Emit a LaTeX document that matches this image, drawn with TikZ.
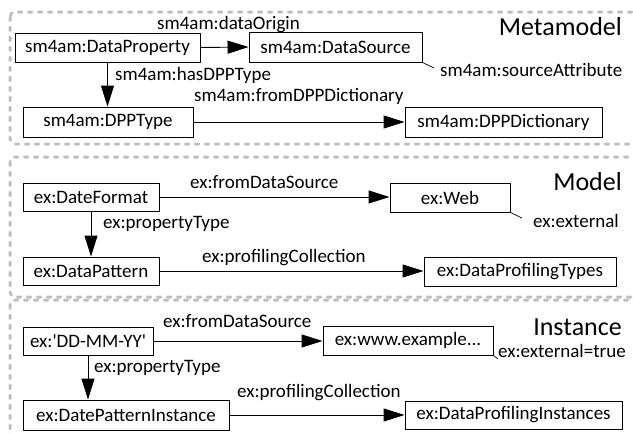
\documentclass[tikz,border=0pt]{standalone}
\usepackage{fontspec}
\setmainfont{Carlito}[Ligatures=TeXOff]
\usetikzlibrary{arrows.meta}
\begin{document}
\begin{tikzpicture}[x=1pt,y=-1pt,
  every node/.style={font=\fontsize{19}{23}\selectfont},
  cls/.style={draw=black, line width=0.9pt, inner sep=0pt, fill=white},
  conn/.style={draw=black, line width=0.9pt, -{Triangle[length=21pt,width=13pt]}},
  attr/.style={draw=black, line width=0.7pt},
  lbl/.style={anchor=base west, inner sep=0pt},
  ttl/.style={anchor=base east, inner sep=0pt, font=\fontsize{26}{30}\selectfont},
  frame/.style={draw=black!25, line width=3pt, line cap=round, dash pattern=on 3.5pt off 6.5pt, rounded corners=5pt}]
\useasboundingbox (0,0) rectangle (633,434);
\clip (0,0) rectangle (633,434);
% frames
\draw[frame] (10,12) rectangle (650,144);
\draw[frame] (10,157) rectangle (650,297);
\draw[frame] (10,300) rectangle (650,450);
% Metamodel
\node[cls, minimum width=185pt, minimum height=29pt] (dp) at (107.5,47.5) {sm4am:DataProperty};
\node[cls, minimum width=173pt, minimum height=30pt] (ds) at (335.5,47) {sm4am:DataSource};
\node[cls, minimum width=170pt, minimum height=30pt] (dpt) at (108,122) {sm4am:DPPType};
\node[cls, minimum width=197pt, minimum height=30pt] (dict) at (503.5,122) {sm4am:DPPDictionary};
\draw[conn] (dp.east) -- (ds.west);
\draw[conn] (dp.south) -- (dp.south |- dpt.north);
\draw[conn] (dpt.east) -- (dpt.east -| dict.west);
\node[lbl] (l1) at (157,29) {sm4am:dataOrigin};
\node[lbl] (l2) at (115,80) {sm4am:hasDPPType};
\node[lbl] (l3) at (194,101.5) {sm4am:fromDPPDictionary};
\node[lbl] (l4) at (440,76) {sm4am:sourceAttribute};
\coordinate (a1) at (434,68);
\draw[attr] (ds.south east) -- (a1);
\node[ttl] (t1) at (622,35) {Metamodel};
% Model
\node[cls, minimum width=136pt, minimum height=28pt] (df) at (91,197) {ex:DateFormat};
\node[cls, minimum width=120pt, minimum height=29pt] (web) at (450,197.5) {ex:Web};
\node[cls, minimum width=136pt, minimum height=28pt] (dpat) at (91,271) {ex:DataPattern};
\node[cls, minimum width=192pt, minimum height=29pt] (dpt2) at (520,271.5) {ex:DataProfilingTypes};
\draw[conn] (df.east) -- (df.east -| web.west);
\draw[conn] (df.south) -- (df.south |- dpat.north);
\draw[conn] (dpat.east) -- (dpat.east -| dpt2.west);
\node[lbl] (m1) at (190,188) {ex:fromDataSource};
\node[lbl] (m2) at (103,228) {ex:propertyType};
\node[lbl] (m3) at (202,262) {ex:profilingCollection};
\node[lbl] (m4) at (533,227) {ex:external};
\coordinate (a2) at (522,218);
\draw[attr] (web.south east) -- (a2);
\node[ttl] (t2) at (622,190) {Model};
% Instance
\node[cls, minimum width=130pt, minimum height=28pt] (dd) at (88,341) {ex:'DD-MM-YY'};
\node[cls, minimum width=170pt, minimum height=29pt] (www) at (408,340.5) {ex:www.example...};
\node[cls, minimum width=206pt, minimum height=30pt] (dpi) at (126,415) {ex:DatePatternInstance};
\node[cls, minimum width=217pt, minimum height=28pt] (dpins) at (513.5,415) {ex:DataProfilingInstances};
\draw[conn] (dd.east) -- (dd.east -| www.west);
\draw[conn] (dd.south) -- (dd.south |- dpi.north);
\draw[conn] (dpi.east) -- (dpi.east -| dpins.west);
\node[lbl] (i1) at (163,327) {ex:fromDataSource};
\node[lbl] (i2) at (94,372) {ex:propertyType};
\node[lbl] (i3) at (237,397) {ex:profilingCollection};
\node[lbl] (i4) at (498,357) {ex:external=true};
\coordinate (a3) at (498,359);
\draw[attr] (www.south east) -- (a3);
\node[ttl] (t3) at (622,335) {Instance};
\end{tikzpicture}
\end{document}
